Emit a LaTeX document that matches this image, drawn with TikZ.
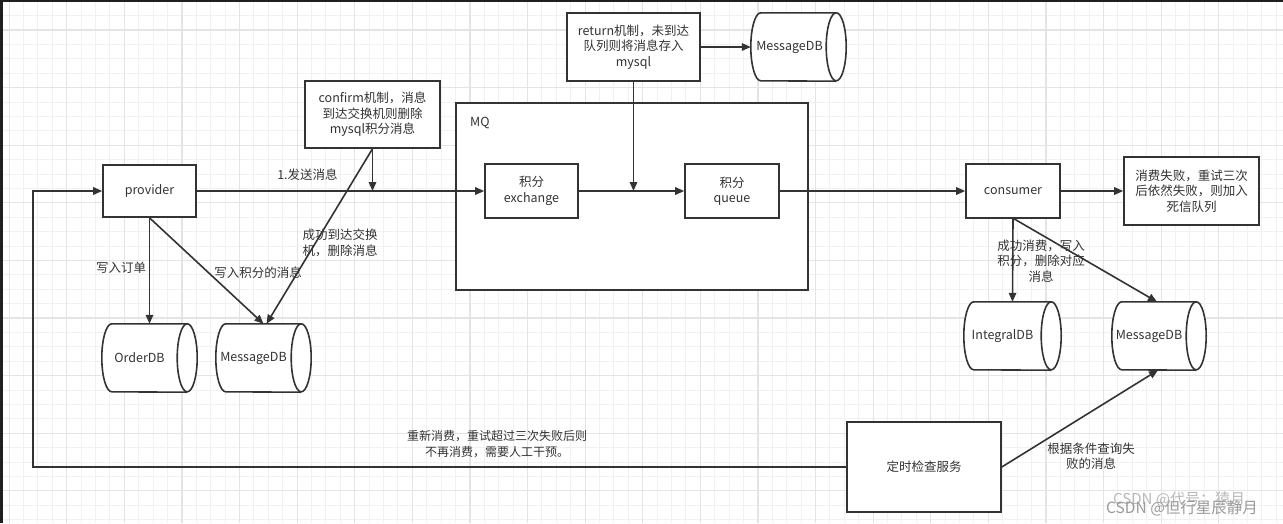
\documentclass[tikz,border=0pt]{standalone}
\usepackage{fontspec}
\setmainfont{Noto Sans CJK SC}
\usetikzlibrary{arrows.meta,calc}
\definecolor{ink}{HTML}{333333}
\definecolor{gthin}{HTML}{F1F1F1}
\definecolor{gthick}{HTML}{E4E4E4}
\definecolor{wm}{HTML}{9A9A9A}
\tikzset{
  line/.style={draw=ink,line width=1.6pt},
  arr/.style={line,-{Triangle[length=9pt,width=7.5pt]}},
  box/.style={draw=ink,line width=1.6pt,fill=white,align=center,text=ink,font=\fontsize{12.5pt}{15.5pt}\selectfont,inner sep=0pt},
  dbshape/.style={inner sep=0pt,minimum height=68pt},
  lbl/.style={text=ink,align=center,font=\fontsize{12.5pt}{15.5pt}\selectfont,inner sep=0pt},
  dbtxt/.style={text=ink,font=\fontsize{12.5pt}{15pt}\selectfont,inner sep=0pt},
}
\newcommand\drawcyl[1]{%
  \fill[white] ([xshift=10pt]#1.north west) -- ([xshift=-10pt]#1.north east) -- ([xshift=-10pt]#1.south east) -- ([xshift=10pt]#1.south west) arc[start angle=270,end angle=90,x radius=10pt,y radius=34pt] -- cycle;
  \draw[line,fill=white] ([xshift=-10pt]#1.north east) arc[start angle=90,end angle=-270,x radius=10pt,y radius=34pt];
  \draw[line] ([xshift=-10pt]#1.north east) -- ([xshift=10pt]#1.north west) arc[start angle=90,end angle=270,x radius=10pt,y radius=34pt] -- ([xshift=-10pt]#1.south east);
}
\begin{document}
\begin{tikzpicture}[x=1pt,y=-1pt]
\useasboundingbox (0,0) rectangle (1283,523);
\fill[white] (0,0) rectangle (1283,523);
% grid
\foreach \i in {0,...,88} {\draw[gthin,line width=1pt] ({9.1+14.4*\i},0) -- ({9.1+14.4*\i},523);}
\foreach \j in {0,...,36} {\draw[gthin,line width=1pt] (0,{1.2+14.4*\j}) -- (1283,{1.2+14.4*\j});}
\foreach \i in {0,...,21} {\draw[gthick,line width=1.2pt] ({9.1+57.6*\i},0) -- ({9.1+57.6*\i},523);}
\foreach \j in {0,...,9} {\draw[gthick,line width=1.2pt] (0,{30+57.6*\j}) -- (1283,{30+57.6*\j});}
\fill[black!88] (0,0) rectangle (1283,2.3);
\fill[black!88] (0,0) rectangle (3,523);

% MQ container
\node[box,minimum width=352pt,minimum height=187pt] (mq) at (632,196.5) {};
\node[lbl,anchor=west] (mqlbl) at (470,123) {MQ};

% boxes
\node[box,minimum width=93pt,minimum height=52pt] (prov) at (149.5,191) {provider};
\node[box,minimum width=93pt,minimum height=54pt] (exch) at (531.5,191) {积分\\exchange};
\node[box,minimum width=94pt,minimum height=54pt] (queue) at (732,191) {积分\\queue};
\node[box,minimum width=94pt,minimum height=54pt] (cons) at (1013,191) {consumer};
\node[box,minimum width=135pt,minimum height=68pt] (dead) at (1191.5,191) {消费失败，重试三次\\后依然失败，则加入\\死信队列};
\node[box,minimum width=135pt,minimum height=67pt] (conf) at (372.5,114.5) {confirm机制，消息\\到达交换机则删除\\mysql积分消息};
\node[box,minimum width=133pt,minimum height=68pt] (ret) at (633.5,47) {return机制，未到达\\队列则将消息存入\\mysql};
\node[box,minimum width=154pt,minimum height=90pt] (timer) at (924,467) {定时检查服务};

% databases
\node[dbshape,minimum width=95pt] (odb) at (149.5,358) {};
\node[dbshape,minimum width=95pt] (mdb1) at (263.5,358) {};
\node[dbshape,minimum width=95pt] (mdbt) at (798.5,47) {};
\node[dbshape,minimum width=97pt] (idb) at (1012.5,336) {};
\node[dbshape,minimum width=94pt] (mdb2) at (1159,336) {};
\drawcyl{odb}\drawcyl{mdb1}\drawcyl{mdbt}\drawcyl{idb}\drawcyl{mdb2}
\node[dbtxt] (odbt) at ([xshift=-10pt]odb.center) {OrderDB};
\node[dbtxt] (mdb1t) at ([xshift=-10pt]mdb1.center) {MessageDB};
\node[dbtxt] (mdbtt) at ([xshift=-9pt]mdbt.center) {MessageDB};
\node[dbtxt] (idbt) at ([xshift=-10pt]idb.center) {IntegralDB};
\node[dbtxt] (mdb2t) at ([xshift=-10pt]mdb2.center) {MessageDB};

% connectors
\coordinate (cj) at (conf.south |- prov.east);
\coordinate (rj) at (ret.south |- exch.east);
\draw[arr] (prov.east) -- (exch.west);
\draw[arr] (conf.south) -- (cj);
\draw[arr] (conf.south) -- ([xshift=3pt]mdb1.north);
\draw[arr] (prov.south) -- (odb.north);
\draw[arr] (prov.south) -- (mdb1.north);
\draw[arr] (exch.east) -- (queue.west);
\draw[arr] (ret.south) -- (rj);
\draw[arr] (ret.east) -- (mdbt.west);
\draw[arr] (queue.east) -- (cons.west);
\draw[arr] (cons.east) -- (dead.west);
\draw[arr] (cons.south) -- (idb.north);
\draw[arr] ([xshift=1pt]cons.south) -- ([xshift=-2pt]mdb2.north);
\draw[arr] (timer.east) -- ([xshift=-1pt]mdb2.south);
\coordinate (lb) at (33,467);
\coordinate (lt) at (33,191);
\draw[arr] (timer.west) -- (lb) -- (lt) -- (prov.west);

% labels
\node[lbl] (l1) at (307.5,175) {1.发送消息};
\node[lbl] (l2) at (121,268) {写入订单};
\node[lbl] (l3) at (258,273) {写入积分的消息};
\node[lbl] (l4) at (340,243) {成功到达交换\\机，删除消息};
\node[lbl] (l5) at (1041,261) {成功消费，写入\\积分，删除对应\\消息};
\node[lbl] (l6) at (1091,456) {根据条件查询失\\败的消息};
\node[lbl,font=\fontsize{12pt}{16pt}\selectfont] (l7) at (497,444) {重新消费，重试超过三次失败后则\\不再消费，需要人工干预。};

% watermark (two overlapping stamps, as in the reference)
\node[anchor=west,text=wm!70,inner sep=0pt,font=\fontsize{15pt}{15pt}\selectfont] (wm1) at (1113,499) {CSDN @代号：猿月};
\node[anchor=west,text=wm,inner sep=0pt,font=\fontsize{15.5pt}{15pt}\selectfont] (wm2) at (1106,508) {CSDN @但行星辰静月};
\end{tikzpicture}
\end{document}
